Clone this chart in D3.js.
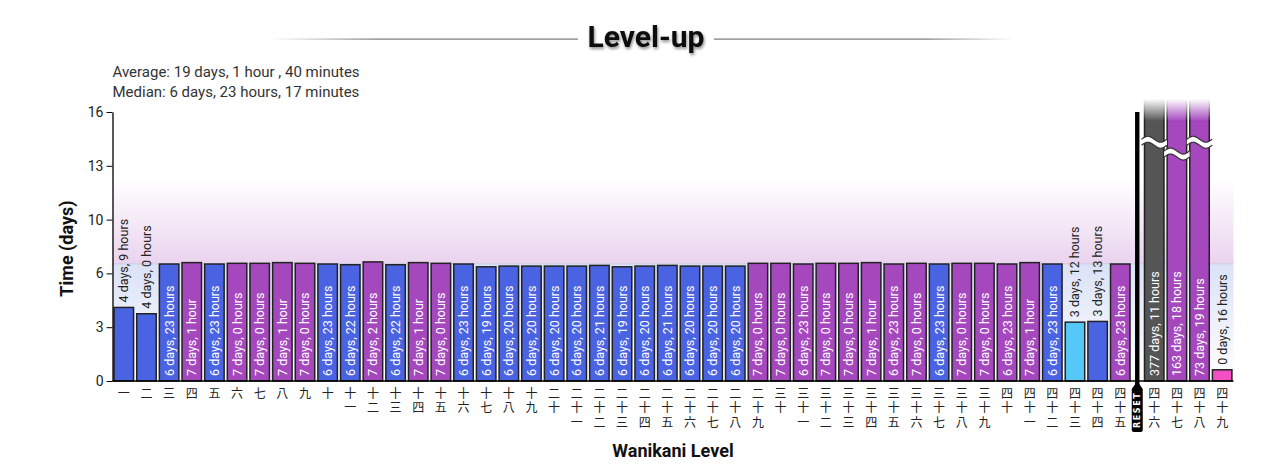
<!DOCTYPE html>
<html><head><meta charset="utf-8">
<script src="https://cdn.jsdelivr.net/npm/d3@7/dist/d3.min.js"></script>
<style>body{margin:0;background:#fff} svg{display:block}</style>
</head><body><svg id="c" width="1280" height="474"></svg>
<script>
// ---------- data ----------
const levels = d3.range(1, 50);
const levelLabels = ["一","二","三","四","五","六","七","八","九","十",
  "十一","十二","十三","十四","十五","十六","十七","十八","十九","二十",
  "二十一","二十二","二十三","二十四","二十五","二十六","二十七","二十八","二十九","三十",
  "三十一","三十二","三十三","三十四","三十五","三十六","三十七","三十八","三十九","四十",
  "四十一","四十二","四十三","四十四","四十五","四十六","四十七","四十八","四十九"];
const days  = [4,4,6,7,6,7,7,7,7,6, 6,7,6,7,7,6,6,6,6,6, 6,6,6,6,6,6,6,6,7,7, 6,7,7,7,6,7,6,7,7,6, 7,6,3,3,6,377,163,73,0];
const hours = [9,0,23,1,23,0,0,1,0,23, 22,2,22,1,0,23,19,20,20,20, 20,21,19,20,21,20,20,20,0,0, 23,0,0,1,23,0,23,0,0,23, 1,23,12,13,23,11,18,19,16];
const kinds = ["below","below","below","above","below","above","above","above","above","below",
  "below","above","below","above","above","below","below","below","below","below",
  "below","below","below","below","below","below","below","below","above","above",
  "above","above","above","above","above","above","below","above","above","above",
  "above","below","fastest","below","above","reset","above","above","current"];
const resetAfterLevel = 45;
const yTicks = [0, 3.2, 6.4, 9.6, 12.8, 16];
const yMax = 16;
const medianDays = 6 + 23/24 + 17/1440;
const statsLines = ["Average: 19 days, 1 hour , 40 minutes", "Median: 6 days, 23 hours, 17 minutes"];
const titleText = "Level-up";
const xTitle = "Wanikani Level";
const yTitle = "Time (days)";

// ---------- setup ----------
const colors = {below:"#4a63e2", above:"#a548be", fastest:"#55c8f8", reset:"#555555", current:"#f250c2"};
const svg = d3.select("#c");
const X0 = 112.5, X1 = 1233.5, Y0 = 381, Y1 = 112;
const posIndex = i => (levels[i] > resetAfterLevel ? i + 0.5 : i);
const x = d3.scaleLinear().domain([-0.5, 49]).range([X0, X1]);
const y = d3.scaleLinear().domain([0, yMax]).range([Y0, Y1]);
const unit = x(1) - x(0);
const bw = unit * 0.86;
const data = levels.map((l, i) => ({
  level: l, label: levelLabels[i], d: days[i], h: hours[i], kind: kinds[i],
  value: days[i] + hours[i] / 24,
  text: `${days[i]} days, ${hours[i]} ${hours[i] === 1 ? "hour" : "hours"}`,
  cx: x(posIndex(i))
}));

const defs = svg.append("defs");
function grad(id, x1, y1, x2, y2, stops) {
  const g = defs.append("linearGradient").attr("id", id)
    .attr("x1", x1).attr("y1", y1).attr("x2", x2).attr("y2", y2);
  stops.forEach(s => g.append("stop").attr("offset", s[0]).attr("stop-color", s[1]).attr("stop-opacity", s[2] ?? 1));
}
grad("gBlue", 0, 0, 0, 1, [[0, "#dbe2f7"], [1, "#ffffff"]]);
grad("gPurp", 0, 1, 0, 0, [[0, "#ead3ee"], [1, "#ffffff"]]);
grad("gFade", 0, 0, 0, 1, [[0, "#ffffff", 1], [1, "#ffffff", 0]]);
grad("gLineL", 0, 0, 1, 0, [[0, "#777", 0], [0.35, "#777", 1], [1, "#777", 1]]);
grad("gLineR", 0, 0, 1, 0, [[0, "#777", 1], [0.7, "#777", 1], [1, "#777", 0]]);
const sh = defs.append("filter").attr("id", "shadow").attr("x", "-20%").attr("y", "-40%").attr("width", "140%").attr("height", "180%");
sh.append("feDropShadow").attr("dx", 1).attr("dy", 2).attr("stdDeviation", 1.6).attr("flood-color", "#000").attr("flood-opacity", 0.45);

// ---------- title ----------
svg.append("text").attr("x", 646).attr("y", 47).attr("text-anchor", "middle")
  .attr("font-family", "Roboto").attr("font-weight", "bold").attr("font-size", 30)
  .attr("fill", "#111").attr("filter", "url(#shadow)").text(titleText);
svg.append("rect").attr("x", 272).attr("y", 38.5).attr("width", 306).attr("height", 1.2).attr("fill", "url(#gLineL)");
svg.append("rect").attr("x", 714).attr("y", 38.5).attr("width", 300).attr("height", 1.2).attr("fill", "url(#gLineR)");

// stats
svg.append("g").selectAll("text").data(statsLines).join("text")
  .attr("x", X0).attr("y", (d, i) => 77 + i * 20)
  .attr("font-family", "Roboto").attr("font-size", 15).attr("fill", "#333").text(d => d);

// ---------- background bands ----------
const ym = y(medianDays);
svg.append("rect").attr("x", X0).attr("y", ym).attr("width", X1 - X0).attr("height", Y0 - ym).attr("fill", "url(#gBlue)");
svg.append("rect").attr("x", X0).attr("y", ym - 85).attr("width", X1 - X0).attr("height", 85).attr("fill", "url(#gPurp)");
svg.append("line").attr("x1", X0).attr("x2", X1).attr("y1", ym).attr("y2", ym).attr("stroke", "#c9cde0").attr("stroke-width", 1);

// ---------- bars ----------
const topBroken = y(yMax) - 12;
const bars = svg.append("g");
bars.selectAll("rect").data(data).join("rect")
  .attr("x", d => d.cx - bw / 2)
  .attr("y", d => d.value > yMax ? topBroken : y(d.value))
  .attr("width", bw)
  .attr("height", d => Y0 - (d.value > yMax ? topBroken : y(d.value)))
  .attr("fill", d => colors[d.kind])
  .attr("stroke", "#222").attr("stroke-width", 1.5);

// fade on top of broken bars
const broken = data.filter(d => d.value > yMax);
svg.append("g").selectAll("rect").data(broken).join("rect")
  .attr("x", d => d.cx - bw / 2 - 2).attr("y", topBroken - 1).attr("width", bw + 4).attr("height", 22)
  .attr("fill", "url(#gFade)");

// break marks
const wave = d3.line().curve(d3.curveBasis);
const breaks = svg.append("g");
broken.forEach((d, k) => {
  const yc = k % 2 === 0 ? y(14.2) : y(13.5);
  const xl = d.cx - bw / 2 - 3, xr = d.cx + bw / 2 + 3;
  const pts = d3.range(0, 1.0001, 0.1).map(t => [xl + t * (xr - xl), yc - 3.2 * Math.sin(2 * Math.PI * t)]);
  const topE = pts.map(p => [p[0], p[1] - 3]);
  const botE = pts.map(p => [p[0], p[1] + 3]);
  breaks.append("path").attr("d", wave(topE) + "L" + wave(botE.slice().reverse()).slice(1) + "Z").attr("fill", "#fff");
  breaks.append("path").attr("d", wave(topE)).attr("fill", "none").attr("stroke", "#333").attr("stroke-width", 1.2);
  breaks.append("path").attr("d", wave(botE)).attr("fill", "none").attr("stroke", "#333").attr("stroke-width", 1.2);
});

// bar labels
const fs = 12.5;
const measure = svg.append("text").attr("font-family", "Roboto").attr("font-size", fs).attr("opacity", 0);
data.forEach(d => { measure.text(d.text); d.tw = measure.node().getComputedTextLength(); });
measure.remove();
svg.append("g").selectAll("text").data(data).join("text")
  .attr("font-family", "Roboto").attr("font-size", fs)
  .attr("transform", d => {
    const inside = d.value > yMax || (Y0 - y(d.value)) > d.tw + 10;
    d.inside = inside;
    const yy = inside ? Y0 - 5 : y(d.value) - 5;
    return `translate(${d.cx + 4.5},${yy}) rotate(-90)`;
  })
  .attr("fill", d => d.inside ? "#fff" : "#222")
  .text(d => d.text);

// ---------- axes ----------
const yAxis = d3.axisLeft(y).tickValues(yTicks).tickFormat(d3.format(".0f")).tickSize(6).tickSizeOuter(0);
const gy = svg.append("g").attr("transform", `translate(${X0},0)`).call(yAxis);
gy.selectAll("text").attr("font-family", "Roboto").attr("font-size", 14).attr("fill", "#222");
gy.select(".domain").attr("stroke", "#000").attr("stroke-width", 1.3);
gy.selectAll(".tick line").attr("stroke", "#000");
svg.append("line").attr("x1", X0).attr("x2", X1).attr("y1", Y0).attr("y2", Y0).attr("stroke", "#000").attr("stroke-width", 1.3);

// x tick labels (stacked kanji, written vertically)
svg.append("g").selectAll("text").data(data).join("text")
  .attr("x", d => d.cx).attr("y", 387)
  .attr("font-family", "Noto Sans CJK JP").attr("font-size", 12).attr("fill", "#222")
  .style("writing-mode", "vertical-rl").style("text-orientation", "upright")
  .attr("letter-spacing", 2.6)
  .text(d => d.label);

// reset marker
const rx = x(resetAfterLevel - 1 + 0.75);
svg.append("rect").attr("x", rx - 2.2).attr("y", Y1).attr("width", 4.4).attr("height", 280).attr("fill", "#000");
svg.append("path").attr("d", `M${rx - 5.5},389 L${rx - 2},384 L${rx + 2},384 L${rx + 5.5},389 L${rx + 5.5},430 Q${rx + 5.5},432 ${rx + 3.5},432 L${rx - 3.5},432 Q${rx - 5.5},432 ${rx - 5.5},430 Z`).attr("fill", "#000");
svg.append("text").attr("transform", `translate(${rx + 3},428) rotate(-90)`)
  .attr("font-family", "DejaVu Sans").attr("font-size", 8).attr("font-weight", "bold")
  .attr("letter-spacing", 1.6).attr("fill", "#fff").text("RESET");

// axis titles
svg.append("text").attr("transform", `translate(73,${(Y0 + Y1) / 2 + 2}) rotate(-90)`).attr("text-anchor", "middle")
  .attr("font-family", "Roboto").attr("font-weight", "bold").attr("font-size", 18).attr("fill", "#111").text(yTitle);
svg.append("text").attr("x", 673).attr("y", 457).attr("text-anchor", "middle")
  .attr("font-family", "Roboto").attr("font-weight", "bold").attr("font-size", 18).attr("fill", "#111").text(xTitle);
</script></body></html>
